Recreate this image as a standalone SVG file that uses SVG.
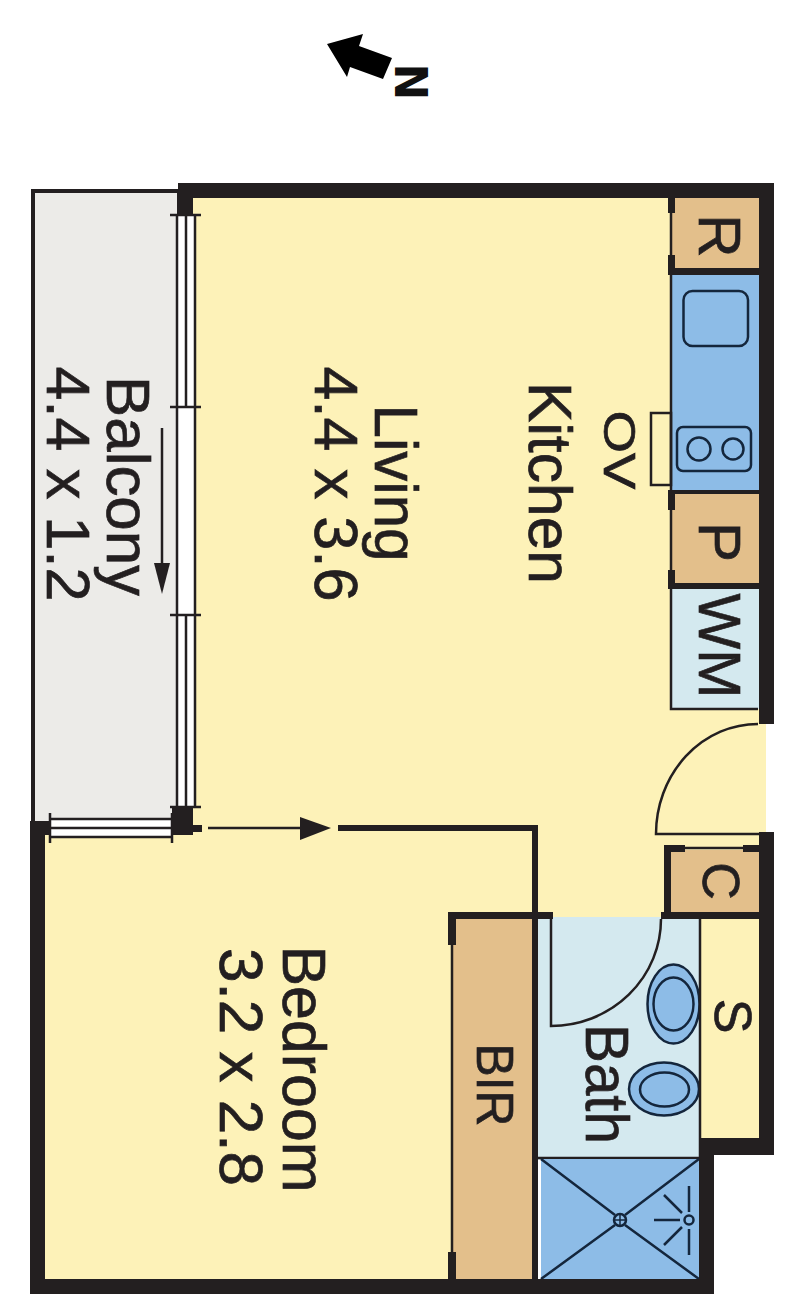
<svg xmlns="http://www.w3.org/2000/svg" width="800" height="1314" viewBox="0 0 800 1314">
<style>
text{font-family:"Liberation Sans",Arial,sans-serif;fill:#231f20;text-anchor:middle;stroke:#231f20;stroke-width:.7}
.y{fill:#fdf2b8}.br{fill:#e3bf8b}.bl{fill:#8dbce7}.lb{fill:#d4e9ef}
.w{fill:#231f20}
.l{fill:none;stroke:#231f20;stroke-width:2.500}
.t{fill:none;stroke:#14263c;stroke-width:2.500}
.big{font-size:61px}
</style>
<rect width="800" height="1314" fill="#fff"/>
<g id="north">
<polygon points="327,44 363,34 359,46 392,58 383,79 350,67 347,77" fill="#000"/>
<text transform="translate(395,82) rotate(90)" font-size="44" font-weight="700" style="font-family:'DejaVu Sans',sans-serif;fill:#111;stroke:none">N</text>
</g>
<g id="balcony">
<rect x="33" y="191" width="146" height="632" fill="#ecebe8" stroke="#231f20" stroke-width="4"/>
<path class="l" d="M162 428V565"/>
<polygon class="w" points="154,563 170,563 162,594"/>
</g>
<g id="floors">
<rect class="y" x="190" y="195" width="485" height="640"/>
<rect class="y" x="670" y="700" width="96" height="150"/>
<rect class="y" x="40" y="830" width="495" height="455"/>
<rect class="y" x="535" y="825" width="135" height="95"/>
</g>
<g id="fridge"><rect class="br" x="672" y="198" width="87" height="72"/></g>
<g id="counter">
<rect class="bl" x="672" y="274" width="87" height="218"/>
<rect class="t" x="683.500" y="291" width="64.500" height="55" rx="9"/>
<rect class="t" x="677" y="427" width="74" height="44" rx="6"/>
<circle class="t" cx="699" cy="449" r="11.500"/>
<circle class="t" cx="733" cy="449" r="10.500"/>
</g>
<g id="oven"><rect class="l" x="651" y="413" width="20" height="72"/></g>
<g id="pantry"><rect class="br" x="672" y="493" width="87" height="92"/></g>
<g id="wm"><rect class="lb" x="672" y="588" width="87" height="121"/></g>
<g id="cupboard"><rect class="br" x="670" y="850" width="89" height="64"/></g>
<g id="bir"><rect class="br" x="453" y="917" width="80" height="364"/></g>
<g id="store"><rect class="y" x="700" y="918" width="60" height="222"/></g>
<g id="bath">
<rect class="lb" x="537" y="917" width="163" height="243"/>
<clipPath id="basin"><rect x="620" y="950" width="79" height="180"/></clipPath>
<g clip-path="url(#basin)">
<ellipse class="bl" cx="673.500" cy="1004" rx="26" ry="39.500" stroke="#14263c" stroke-width="2.500"/>
<ellipse class="t" cx="673.500" cy="1004" rx="20" ry="26.500"/>
<ellipse class="bl" cx="664" cy="1089" rx="35" ry="26.500" stroke="#14263c" stroke-width="2.500"/>
<ellipse class="t" cx="664.500" cy="1089.500" rx="24.500" ry="17"/>
</g>
<path class="l" d="M700 919V1160M538 1158H700"/>
<path class="l" d="M551 919V1026A110 107 0 0 0 661 919"/>
</g>
<g id="shower">
<rect class="bl" x="541" y="1159" width="158" height="121"/>
<path class="t" d="M541 1159L615 1215M699 1159L625 1215M541 1279L615 1225M699 1279L625 1225"/>
<circle class="t" cx="620" cy="1220" r="6"/>
<path class="t" d="M614 1220H626M620 1214V1226" style="stroke-width:1.500"/>
<circle class="t" cx="689" cy="1220" r="4.500"/>
<path class="t" d="M689 1186V1212M689 1229V1255M654 1220H680M664 1195L682 1213M664 1245L682 1227"/>
</g>
<g id="windows">
<rect x="177" y="215" width="18" height="592" fill="#fff"/>
<path class="l" d="M177 215V807M195 215V807M186 215V407M186 615V807M170 215H201M170 407H201M170 615H201M170 807H201"/>
<rect x="50" y="819" width="122" height="18" fill="#fff"/>
<path class="l" d="M50 819H172M50 828H172M50 837H172M50 813V843M172 813V843"/>
</g>
<g id="walls">
<path class="w" d="M178 183H774V724H759V198H193V215H178Z"/>
<path class="w" d="M759 832H774V1155H714V1294H30V821H51V835H45V1279H532V831H338V825H538V912H553V919H538V1279H699V1138H759Z"/>
<path class="w" d="M172 807H193V825H202V832H193V835H172Z"/>
<path class="w" d="M448 912H532V919H456V945H448ZM448 1252H456V1280H448Z"/>
<path class="w" d="M661 912H664V845H685V852H671V912H759V919H661ZM743 845H759V852H743Z"/>
<path class="w" d="M668 198H675V213H668ZM668 255H675V268H759V275H668ZM668 490H759V494H675V510H668ZM668 570H675V583H759V589H668Z"/>
<path class="l" d="M671 213V255M671 275V490M671 510V570M671 589V709H758M685 848H743M452 945V1252"/>
<path class="l" d="M208 828H302"/>
<polygon class="w" points="300,817 331,828 300,840"/>
<path class="l" d="M758 724A102 110 0 0 0 656 834H759"/>
</g>
<g id="labels">
<text class="big" transform="translate(107,486) rotate(90)" textLength="220" lengthAdjust="spacingAndGlyphs">Balcony</text>
<text class="big" transform="translate(47,484) rotate(90)" textLength="235" lengthAdjust="spacingAndGlyphs">4.4 x 1.2</text>
<text class="big" transform="translate(375,483) rotate(90)" textLength="157" lengthAdjust="spacingAndGlyphs">Living</text>
<text class="big" transform="translate(315,484) rotate(90)" textLength="235" lengthAdjust="spacingAndGlyphs">4.4 x 3.6</text>
<text class="big" transform="translate(529,483) rotate(90)" textLength="202" lengthAdjust="spacingAndGlyphs">Kitchen</text>
<text font-size="45" transform="translate(604,450) rotate(90)" textLength="79" lengthAdjust="spacingAndGlyphs">OV</text>
<text font-size="60" transform="translate(699,236) rotate(90)">R</text>
<text font-size="60" transform="translate(699,542) rotate(90)">P</text>
<text font-size="60" transform="translate(699,646) rotate(90)" textLength="105" lengthAdjust="spacingAndGlyphs">WM</text>
<text font-size="52" transform="translate(703,881) rotate(90)">C</text>
<text font-size="52" transform="translate(715,1016) rotate(90)">S</text>
<text font-size="52" transform="translate(477,1085) rotate(90)" textLength="83" lengthAdjust="spacingAndGlyphs">BIR</text>
<text font-size="62" transform="translate(586,1084) rotate(90)" textLength="120" lengthAdjust="spacingAndGlyphs">Bath</text>
<text class="big" transform="translate(283,1069) rotate(90)" textLength="247" lengthAdjust="spacingAndGlyphs">Bedroom</text>
<text class="big" transform="translate(220,1067) rotate(90)" textLength="238" lengthAdjust="spacingAndGlyphs">3.2 x 2.8</text>
</g>
</svg>
